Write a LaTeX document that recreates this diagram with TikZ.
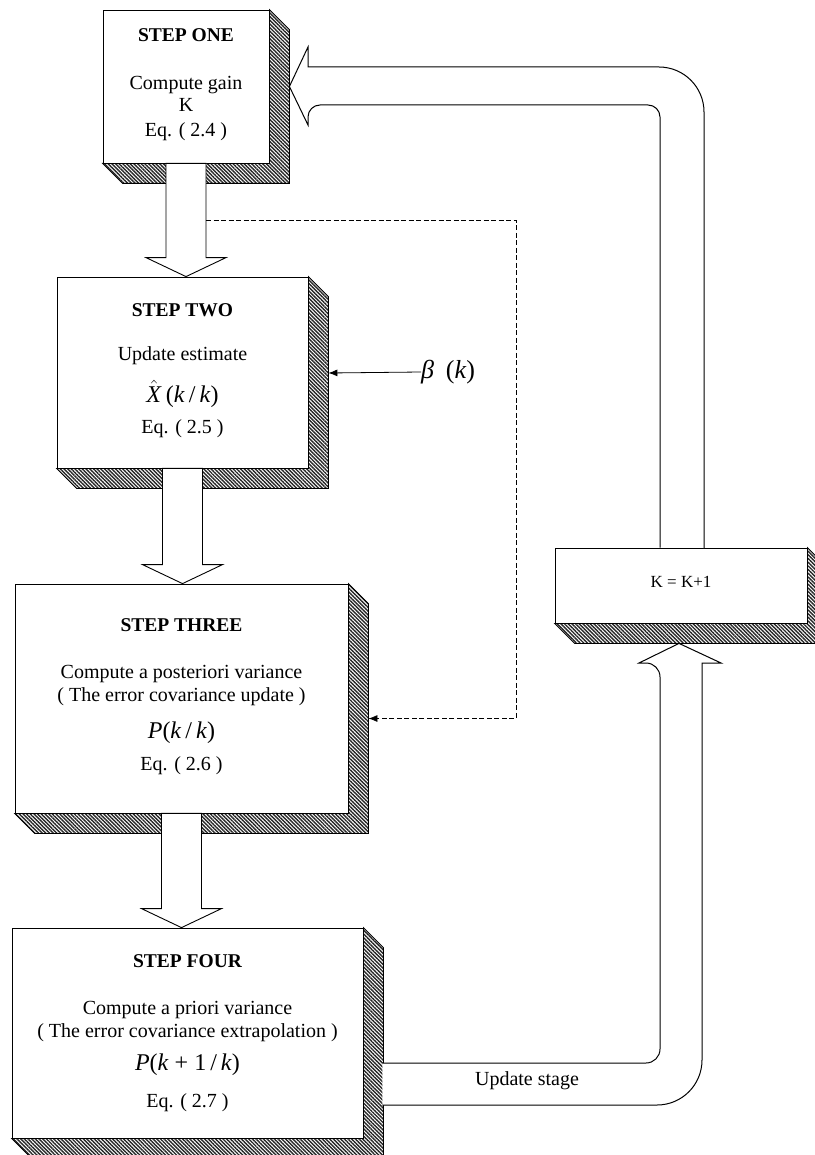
\documentclass[tikz,border=0pt]{standalone}
\usepackage{fontspec}
\setmainfont{Liberation Serif}
\usetikzlibrary{patterns.meta,calc,arrows.meta,backgrounds}

\tikzset{
 stepbox/.style={draw=black, line width=0.8pt, fill=white, inner sep=0pt, rectangle},
 hatch/.style={draw=black, line width=0.8pt, pattern={Lines[angle=-45,distance=2.6pt,line width=1.4pt]}, pattern color=black!85},
 hollow/.style={draw=black, line width=0.9pt, fill=white, line join=miter},
 band/.style={draw=black, line width=1pt},
 headtxt/.style={font=\fontsize{19.5}{22}\selectfont\bfseries, anchor=mid, inner sep=0pt},
 txt/.style={font=\fontsize{20}{24}\selectfont, anchor=mid, inner sep=0pt},
 smalltxt/.style={font=\fontsize{17}{20}\selectfont, anchor=mid, inner sep=0pt},
 mth/.style={font=\fontsize{24}{28}\selectfont, anchor=mid, inner sep=0pt},
 dashline/.style={draw=black, line width=0.8pt, dash pattern=on 5pt off 2.5pt},
 tip/.style={-{Latex[length=9pt,width=7pt]}},
}

\newcommand{\boxshadow}[2]{%
 \path[hatch] (#1.north east) -- ++(#2,#2) -- ($(#1.south east)+(#2,#2)$) -- ($(#1.south west)+(#2,#2)$) -- (#1.south west) -- (#1.south east) -- cycle;}

\newcommand{\hdown}[2]{%
 \draw[hollow] let \p1=(#1.south), \p2=(#2.north) in
 (\x1-20pt,\y1) -- (\x1-20pt,\y2+19pt) -- (\x1-40pt,\y2+19pt) -- (\x1,\y2) -- (\x1+40pt,\y2+19pt) -- (\x1+20pt,\y2+19pt) -- (\x1+20pt,\y1) -- cycle;}

\begin{document}
\begin{tikzpicture}[x=1pt,y=-1pt]
\useasboundingbox (0,0) rectangle (814,1155);

% boxes
\node[stepbox, minimum width=166pt, minimum height=153pt] (one) at (186,86.5) {};
\node[stepbox, minimum width=251pt, minimum height=191pt] (two) at (182.5,372.5) {};
\node[stepbox, minimum width=333pt, minimum height=229pt] (three) at (181.5,698.5) {};
\node[stepbox, minimum width=351pt, minimum height=210pt] (four) at (187.5,1033) {};
\node[stepbox, minimum width=252pt, minimum height=75pt] (kbox) at (681,585.5) {};

\begin{pgfonlayer}{background}
 \fill[white] (0,0) rectangle (814,1155);
 \boxshadow{one}{20}
 \boxshadow{two}{20}
 \boxshadow{three}{20}
 \boxshadow{four}{20}
 \boxshadow{kbox}{20}
\end{pgfonlayer}

% texts box one
\node[headtxt] (h1) at ($(one.center)+(0,-47)$) {STEP ONE};
\node[txt] (t1a) at ($(one.center)+(0,1)$) {Compute gain};
\node[txt] (t1b) at ($(one.center)+(0,23)$) {K};
\node[txt] (t1c) at ($(one.center)+(0,48)$) {Eq. ( 2.4 )};
% box two
\node[headtxt] (h2) at ($(two.center)+(0,-58)$) {STEP TWO};
\node[txt] (t2a) at ($(two.center)+(0,-14)$) {Update estimate};
\node[mth] (t2b) at ($(two.center)+(0,28)$) {$\hat{\mbox{\textit{X}}}$\,(\textit{k}\,/\,\textit{k})};
\node[txt] (t2c) at ($(two.center)+(0,59)$) {Eq. ( 2.5 )};
% box three
\node[headtxt] (h3) at ($(three.center)+(0,-69)$) {STEP THREE};
\node[txt] (t3a) at ($(three.center)+(0,-22)$) {Compute a posteriori variance};
\node[txt] (t3b) at ($(three.center)+(0,1)$) {( The error covariance update )};
\node[mth] (t3c) at ($(three.center)+(0,38)$) {\textit{P}(\textit{k}\,/\,\textit{k})};
\node[txt] (t3d) at ($(three.center)+(0,70)$) {Eq. ( 2.6 )};
% box four
\node[headtxt] (h4) at ($(four.center)+(0,-68)$) {STEP FOUR};
\node[txt] (t4a) at ($(four.center)+(0,-21)$) {Compute a priori variance};
\node[txt] (t4b) at ($(four.center)+(0,2)$) {( The error covariance extrapolation )};
\node[mth] (t4c) at ($(four.center)+(0,35)$) {\textit{P}(\textit{k} + 1\,/\,\textit{k})};
\node[txt] (t4d) at ($(four.center)+(0,72)$) {Eq. ( 2.7 )};
% K box
\node[smalltxt] (kt) at (kbox.center) {K = K+1};

% hollow arrows between steps
\hdown{one}{two}
\hdown{two}{three}
\hdown{three}{four}

% dashed feedback
\coordinate (dstart) at ($(one.south)+(20,57)$);
\draw[dashline,tip] (dstart) -- ++(310,0) |- ($(three.east)+(20,20)$);

% beta input
\node[mth, anchor=west, font=\fontsize{26}{30}\selectfont] (beta) at (421,372) {\textit{β}\hspace{0.45em}(\textit{k})};
\draw[line width=0.8pt,tip] (beta.west) -- ($(two.east)+(20,0.5)$);

% lower band: step four -> K box
\draw[band, fill=white] ($(four.east)+(19,30)$) {[rounded corners=14pt] -- (660,1063) -- (660,663)} -- (639,663) -- ($(kbox.south)+(-2,20)$) -- (721,663) -- (702,663) {[rounded corners=45pt] -- (702,1105) -- ($(four.east)+(19,72)$)};
\node[txt] (upd) at (527,1083) {Update stage};

% upper band: K box -> step one
\draw[band, fill=white] ($(kbox.north)+(-21,0)$) {[rounded corners=12pt] -- (660,105) -- (308,105)} -- (308,125) -- ($(one.east)+(20,0)$) -- (308,47) -- (308,67) {[rounded corners=45pt] -- (704,67) -- (704,548)};

\end{tikzpicture}
\end{document}
